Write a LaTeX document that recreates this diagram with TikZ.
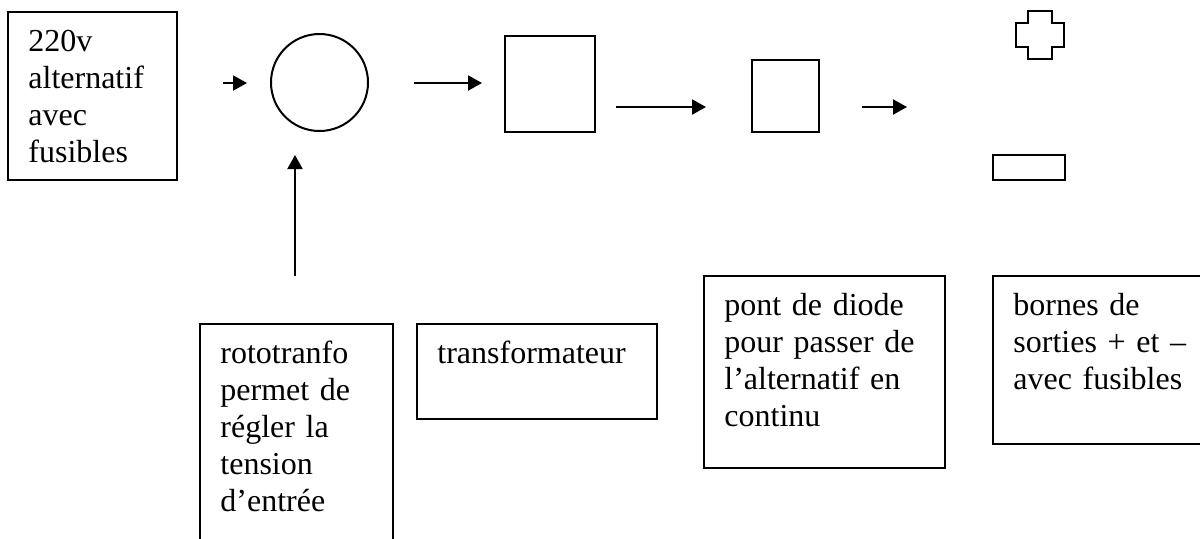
\documentclass[tikz,border=0pt]{standalone}
\usepackage{fontspec}
\setmainfont{Liberation Serif}
\usetikzlibrary{arrows.meta}
\begin{document}
\begin{tikzpicture}[x=0.5pt,y=-0.5pt,
  frame/.style={draw, line width=1pt, rectangle, inner sep=0pt, anchor=north west},
  note/.style={anchor=north west, inner sep=0pt, align=left, text width=150pt,
               font=\fontsize{16}{18.5}\selectfont},
  flow/.style={line width=1pt, -{Triangle[length=7pt,width=7.5pt]}}]
\useasboundingbox (0,0) rectangle (1200,538);

% --- top row: supply chain symbols ---
\node[frame, minimum width=84.5pt, minimum height=84pt] (mains) at (7,11) {};
\node[note] (mainsT) at (28,25) {\strut 220v\\alternatif\\avec\\fusibles};

\node[draw, circle, line width=1pt, inner sep=0pt, minimum size=48.5pt] (roto) at (319.5,82.5) {};
\node[frame, minimum width=45pt, minimum height=48pt] (trafo) at (504,35) {};
\node[frame, minimum width=33.5pt, minimum height=36pt] (bridge) at (751,59) {};

% output terminals: plus and minus
\draw[line width=1pt] (1028,11) -- (1052,11) -- (1052,23) -- (1064,23) -- (1064,47)
  -- (1052,47) -- (1052,59) -- (1028,59) -- (1028,47) -- (1016,47) -- (1016,23)
  -- (1028,23) -- cycle;
\node[frame, minimum width=36pt, minimum height=12.5pt] (minus) at (992,154) {};

% --- arrows ---
\coordinate (a1s) at (223,83);  \coordinate (a1e) at (247,83);
\coordinate (a2s) at (414,83);  \coordinate (a2e) at (482,83);
\coordinate (a3s) at (616,107); \coordinate (a3e) at (706,107);
\coordinate (a4s) at (862,107); \coordinate (a4e) at (907,107);
\coordinate (a5s) at (295,276); \coordinate (a5e) at (295,155);
\draw[flow] (a1s) -- (a1e);
\draw[flow] (a2s) -- (a2e);
\draw[flow] (a3s) -- (a3e);
\draw[flow] (a4s) -- (a4e);
\draw[flow] (a5s) -- (a5e);

% --- captions ---
\node[frame, minimum width=96.5pt, minimum height=125pt] (rotoC) at (199,323) {};
\node[note] (rotoT) at (220,337) {\strut rototranfo\\permet de\\régler la\\tension\\d’entrée};

\node[frame, minimum width=120pt, minimum height=47.5pt] (trafoC) at (416,323) {};
\node[note] (trafoT) at (437,337) {\strut transformateur};

\node[frame, minimum width=120.5pt, minimum height=96pt] (bridgeC) at (703,275) {};
\node[note] (bridgeT) at (724,289) {\strut pont de diode\\pour passer de\\l’alternatif en\\continu};

\node[frame, minimum width=119pt, minimum height=84pt] (outC) at (992,275) {};
\node[note] (outT) at (1013,289) {\strut bornes de\\sorties + et –\\avec fusibles};
\end{tikzpicture}
\end{document}
